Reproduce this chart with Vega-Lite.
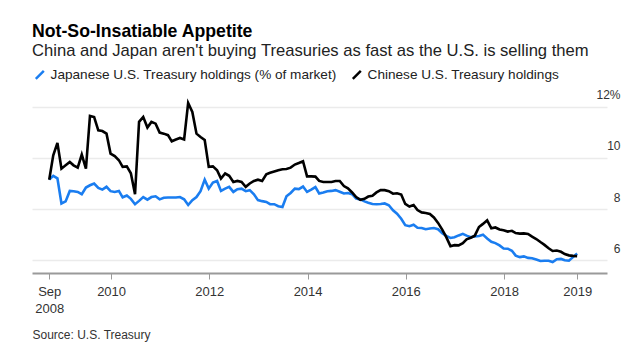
{
  "$schema": "https://vega.github.io/schema/vega-lite/v6.json",
  "autosize": "none",
  "width": 575,
  "height": 179,
  "padding": {"left": 32, "top": 94, "right": 33, "bottom": 81},
  "background": "white",
  "title": {
    "text": "Not-So-Insatiable Appetite",
    "subtitle": "China and Japan aren't buying Treasuries as fast as the U.S. is selling them",
    "anchor": "start",
    "frame": "group",
    "font": "Liberation Sans",
    "fontSize": 17.7,
    "fontWeight": "bold",
    "color": "#000000",
    "subtitleFont": "Liberation Sans",
    "subtitleFontSize": 16.6,
    "subtitleColor": "#222222",
    "subtitlePadding": 3,
    "offset": 8
  },
  "data": {
    "values": [
      {"d": "2008-09-28", "j": 9.15, "c": 9.15},
      {"d": "2008-10-28", "j": 9.3, "c": 10.1},
      {"d": "2008-11-28", "j": 9.2, "c": 10.59},
      {"d": "2008-12-28", "j": 8.22, "c": 9.58},
      {"d": "2009-01-28", "j": 8.3, "c": 9.71},
      {"d": "2009-02-28", "j": 8.71, "c": 9.84},
      {"d": "2009-03-28", "j": 8.7, "c": 9.71},
      {"d": "2009-04-28", "j": 8.67, "c": 9.62},
      {"d": "2009-05-28", "j": 8.58, "c": 10.13},
      {"d": "2009-06-28", "j": 8.84, "c": 9.58},
      {"d": "2009-07-28", "j": 8.93, "c": 11.64},
      {"d": "2009-08-28", "j": 9.0, "c": 11.6},
      {"d": "2009-09-28", "j": 8.83, "c": 11.08},
      {"d": "2009-10-28", "j": 8.76, "c": 11.05},
      {"d": "2009-11-28", "j": 8.87, "c": 10.95},
      {"d": "2009-12-28", "j": 8.7, "c": 10.17},
      {"d": "2010-01-28", "j": 8.67, "c": 10.07},
      {"d": "2010-02-28", "j": 8.71, "c": 9.91},
      {"d": "2010-03-28", "j": 8.46, "c": 9.65},
      {"d": "2010-04-28", "j": 8.53, "c": 9.67},
      {"d": "2010-05-28", "j": 8.4, "c": 9.4},
      {"d": "2010-06-28", "j": 8.19, "c": 8.58},
      {"d": "2010-07-28", "j": 8.32, "c": 11.41},
      {"d": "2010-08-28", "j": 8.47, "c": 11.6},
      {"d": "2010-09-28", "j": 8.37, "c": 11.19},
      {"d": "2010-10-28", "j": 8.47, "c": 11.41},
      {"d": "2010-11-28", "j": 8.5, "c": 11.34},
      {"d": "2010-12-28", "j": 8.38, "c": 10.99},
      {"d": "2011-01-28", "j": 8.44, "c": 10.95},
      {"d": "2011-02-28", "j": 8.45, "c": 10.89},
      {"d": "2011-03-28", "j": 8.45, "c": 10.65},
      {"d": "2011-04-28", "j": 8.45, "c": 10.72},
      {"d": "2011-05-28", "j": 8.47, "c": 10.78},
      {"d": "2011-06-28", "j": 8.38, "c": 10.72},
      {"d": "2011-07-28", "j": 8.16, "c": 12.15},
      {"d": "2011-08-28", "j": 8.35, "c": 11.8},
      {"d": "2011-09-28", "j": 8.47, "c": 10.95},
      {"d": "2011-10-28", "j": 8.7, "c": 10.82},
      {"d": "2011-11-28", "j": 9.15, "c": 10.7},
      {"d": "2011-12-28", "j": 8.8, "c": 9.65},
      {"d": "2012-01-28", "j": 9.04, "c": 9.67},
      {"d": "2012-02-28", "j": 9.1, "c": 9.52},
      {"d": "2012-03-28", "j": 8.71, "c": 9.19},
      {"d": "2012-04-28", "j": 8.8, "c": 9.39},
      {"d": "2012-05-28", "j": 8.87, "c": 9.3},
      {"d": "2012-06-28", "j": 8.67, "c": 9.06},
      {"d": "2012-07-28", "j": 8.78, "c": 9.1},
      {"d": "2012-08-28", "j": 8.8, "c": 9.06},
      {"d": "2012-09-28", "j": 8.7, "c": 8.87},
      {"d": "2012-10-28", "j": 8.74, "c": 9.0},
      {"d": "2012-11-28", "j": 8.58, "c": 9.1},
      {"d": "2012-12-28", "j": 8.35, "c": 9.15},
      {"d": "2013-01-28", "j": 8.31, "c": 9.1},
      {"d": "2013-02-28", "j": 8.28, "c": 9.36},
      {"d": "2013-03-28", "j": 8.19, "c": 9.42},
      {"d": "2013-04-28", "j": 8.19, "c": 9.47},
      {"d": "2013-05-28", "j": 8.11, "c": 9.52},
      {"d": "2013-06-28", "j": 8.08, "c": 9.56},
      {"d": "2013-07-28", "j": 8.5, "c": 9.57},
      {"d": "2013-08-28", "j": 8.63, "c": 9.62},
      {"d": "2013-09-28", "j": 8.8, "c": 9.74},
      {"d": "2013-10-28", "j": 8.78, "c": 9.8},
      {"d": "2013-11-28", "j": 8.88, "c": 9.87},
      {"d": "2013-12-28", "j": 8.67, "c": 9.28},
      {"d": "2014-01-28", "j": 8.76, "c": 9.28},
      {"d": "2014-02-28", "j": 8.86, "c": 9.27},
      {"d": "2014-03-28", "j": 8.61, "c": 9.1},
      {"d": "2014-04-28", "j": 8.65, "c": 9.06},
      {"d": "2014-05-28", "j": 8.7, "c": 9.06},
      {"d": "2014-06-28", "j": 8.71, "c": 9.06},
      {"d": "2014-07-28", "j": 8.74, "c": 9.1},
      {"d": "2014-08-28", "j": 8.68, "c": 9.1},
      {"d": "2014-09-28", "j": 8.61, "c": 8.9},
      {"d": "2014-10-28", "j": 8.63, "c": 8.81},
      {"d": "2014-11-28", "j": 8.58, "c": 8.65},
      {"d": "2014-12-28", "j": 8.41, "c": 8.47},
      {"d": "2015-01-28", "j": 8.38, "c": 8.36},
      {"d": "2015-02-28", "j": 8.3, "c": 8.4},
      {"d": "2015-03-28", "j": 8.25, "c": 8.49},
      {"d": "2015-04-28", "j": 8.2, "c": 8.52},
      {"d": "2015-05-28", "j": 8.19, "c": 8.65},
      {"d": "2015-06-28", "j": 8.2, "c": 8.74},
      {"d": "2015-07-28", "j": 8.22, "c": 8.74},
      {"d": "2015-08-28", "j": 8.15, "c": 8.7},
      {"d": "2015-09-28", "j": 7.95, "c": 8.6},
      {"d": "2015-10-28", "j": 7.82, "c": 8.62},
      {"d": "2015-11-28", "j": 7.62, "c": 8.57},
      {"d": "2015-12-28", "j": 7.37, "c": 8.2},
      {"d": "2016-01-28", "j": 7.33, "c": 8.1},
      {"d": "2016-02-28", "j": 7.39, "c": 8.16},
      {"d": "2016-03-28", "j": 7.27, "c": 7.96},
      {"d": "2016-04-28", "j": 7.26, "c": 7.87},
      {"d": "2016-05-28", "j": 7.21, "c": 7.85},
      {"d": "2016-06-28", "j": 7.24, "c": 7.81},
      {"d": "2016-07-28", "j": 7.26, "c": 7.67},
      {"d": "2016-08-28", "j": 7.21, "c": 7.46},
      {"d": "2016-09-28", "j": 7.06, "c": 7.2},
      {"d": "2016-10-28", "j": 6.95, "c": 6.9},
      {"d": "2016-11-28", "j": 6.87, "c": 6.55},
      {"d": "2016-12-28", "j": 6.9, "c": 6.59},
      {"d": "2017-01-28", "j": 6.97, "c": 6.58},
      {"d": "2017-02-28", "j": 7.03, "c": 6.67},
      {"d": "2017-03-28", "j": 6.96, "c": 6.82},
      {"d": "2017-04-28", "j": 6.9, "c": 6.88},
      {"d": "2017-05-28", "j": 6.93, "c": 6.96},
      {"d": "2017-06-28", "j": 6.95, "c": 7.3},
      {"d": "2017-07-28", "j": 7.0, "c": 7.42},
      {"d": "2017-08-28", "j": 6.85, "c": 7.56},
      {"d": "2017-09-28", "j": 6.72, "c": 7.25},
      {"d": "2017-10-28", "j": 6.67, "c": 7.28},
      {"d": "2017-11-28", "j": 6.58, "c": 7.2},
      {"d": "2017-12-28", "j": 6.46, "c": 7.17},
      {"d": "2018-01-28", "j": 6.45, "c": 7.12},
      {"d": "2018-02-28", "j": 6.37, "c": 7.15},
      {"d": "2018-03-28", "j": 6.18, "c": 7.06},
      {"d": "2018-04-28", "j": 6.12, "c": 7.04},
      {"d": "2018-05-28", "j": 6.15, "c": 7.05},
      {"d": "2018-06-28", "j": 6.09, "c": 7.03},
      {"d": "2018-07-28", "j": 6.08, "c": 6.92},
      {"d": "2018-08-28", "j": 6.03, "c": 6.83},
      {"d": "2018-09-28", "j": 5.97, "c": 6.71},
      {"d": "2018-10-28", "j": 5.98, "c": 6.6},
      {"d": "2018-11-28", "j": 5.98, "c": 6.47},
      {"d": "2018-12-28", "j": 5.93, "c": 6.36},
      {"d": "2019-01-28", "j": 6.04, "c": 6.38},
      {"d": "2019-02-28", "j": 6.05, "c": 6.33},
      {"d": "2019-03-28", "j": 6.0, "c": 6.24},
      {"d": "2019-04-28", "j": 5.98, "c": 6.19},
      {"d": "2019-05-28", "j": 6.12, "c": 6.17},
      {"d": "2019-06-28", "j": 6.26, "c": 6.16}
    ]
  },
  "transform": [{"fold": ["j", "c"], "as": ["series", "value"]}],
  "mark": {"type": "line", "strokeWidth": 2.6, "strokeJoin": "miter", "strokeMiterLimit": 4},
  "encoding": {
    "x": {
      "field": "d",
      "type": "temporal",
      "scale": {
        "domain": [
          {"year": 2008, "month": 5, "date": 23, "utc": true},
          {"year": 2020, "month": 2, "date": 5, "utc": true}
        ],
        "nice": false
      },
      "axis": {
        "values": [
          {"year": 2008, "month": 9, "date": 28, "utc": true},
          {"year": 2010, "month": 1, "date": 1, "utc": true},
          {"year": 2012, "month": 1, "date": 1, "utc": true},
          {"year": 2014, "month": 1, "date": 1, "utc": true},
          {"year": 2016, "month": 1, "date": 1, "utc": true},
          {"year": 2018, "month": 1, "date": 1, "utc": true},
          {"year": 2019, "month": 6, "date": 28, "utc": true}
        ],
        "labelExpr": "utcyear(datum.value) == 2008 ? ['Sep', '2008'] : utcFormat(datum.value, '%Y')",
        "grid": false,
        "domain": true,
        "domainColor": "#9a9a9a",
        "domainWidth": 2,
        "ticks": true,
        "tickColor": "#9a9a9a",
        "tickSize": 6,
        "tickWidth": 1,
        "labelFont": "Liberation Sans",
        "labelFontSize": 13,
        "labelColor": "#333333",
        "labelPadding": 6,
        "labelLineHeight": 17,
        "labelFlush": false,
        "labelOverlap": false,
        "title": "Source: U.S. Treasury",
        "titleFont": "Liberation Sans",
        "titleFontSize": 12,
        "titleFontWeight": "normal",
        "titleColor": "#333333",
        "titleAnchor": "start",
        "titleAlign": "left",
        "titleBaseline": "alphabetic",
        "titleX": 0,
        "titleY": 65
      }
    },
    "y": {
      "field": "value",
      "type": "quantitative",
      "scale": {"domain": [5.5, 12.5], "nice": false, "zero": false},
      "axis": {
        "orient": "right",
        "values": [6, 8, 10, 12],
        "labelExpr": "datum.value == 12 ? '12%' : datum.label + '\u2003'",
        "grid": true,
        "gridColor": "#ebebeb",
        "gridWidth": 1.5,
        "domain": false,
        "ticks": false,
        "labelAlign": "right",
        "labelBaseline": "alphabetic",
        "labelOffset": -8,
        "labelPadding": 13,
        "labelFont": "Liberation Sans",
        "labelFontSize": 12,
        "labelColor": "#333333",
        "title": null
      }
    },
    "color": {
      "field": "series",
      "type": "nominal",
      "scale": {"domain": ["j", "c"], "range": ["#1a7df0", "#000000"]},
      "legend": {
        "orient": "none",
        "legendX": 1,
        "legendY": -26,
        "direction": "horizontal",
        "title": null,
        "labelExpr": "datum.label == 'j' ? 'Japanese U.S. Treasury holdings (% of market)' : 'Chinese U.S. Treasury holdings'",
        "labelFont": "Liberation Sans",
        "labelFontSize": 13.6,
        "labelColor": "#222222",
        "labelOffset": 4,
        "columnPadding": 10,
        "symbolType": "M-1,1L1,-1",
        "symbolSize": 64,
        "symbolStrokeWidth": 2.5,
        "labelLimit": 400
      }
    }
  },
  "config": {
    "view": {"stroke": null},
    "font": "Liberation Sans"
  }
}
